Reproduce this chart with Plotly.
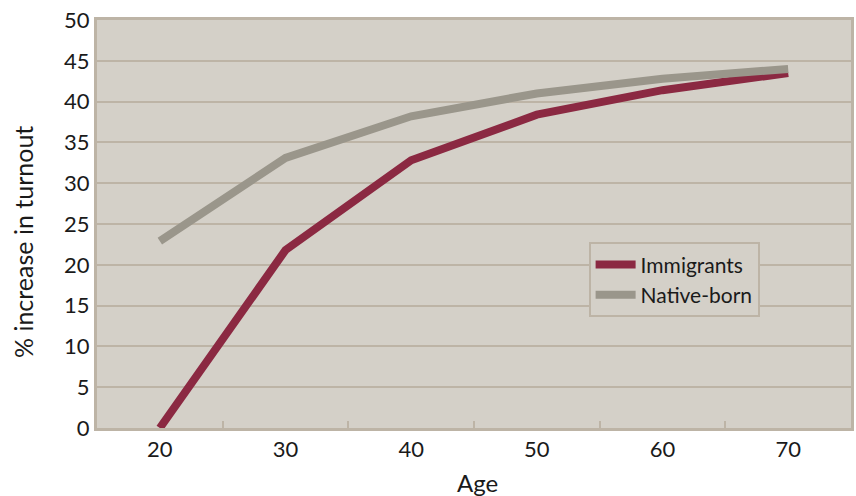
import plotly.graph_objects as go

ages = [20, 30, 40, 50, 60, 70]
immigrants = [0.0, 21.8, 32.8, 38.4, 41.4, 43.5]
native_born = [22.9, 33.1, 38.2, 41.0, 42.8, 44.0]
y_ticks = [0, 5, 10, 15, 20, 25, 30, 35, 40, 45, 50]

bg = "#d4d0c8"
grid = "#bdb4a6"
font = "Lato, 'Open Sans', sans-serif"

fig = go.Figure()
fig.add_trace(go.Scatter(x=ages, y=immigrants, mode="lines", name="Immigrants",
                         line=dict(color="#8b2942", width=8)))
fig.add_trace(go.Scatter(x=ages, y=native_born, mode="lines", name="Native-born",
                         line=dict(color="#9a968b", width=8)))

fig.update_layout(
    width=856, height=496,
    margin=dict(l=97, r=5, t=20, b=68, autoexpand=False),
    paper_bgcolor="white", plot_bgcolor=bg,
    font=dict(family=font, size=22, color="#1a1a1a"),
    showlegend=True,
    legend=dict(x=0.652, y=0.455, xanchor="left", yanchor="top",
                bgcolor=bg, bordercolor=grid, borderwidth=2,
                font=dict(size=21), itemwidth=40, traceorder="normal",
                tracegroupgap=0),
    xaxis=dict(range=[15, 75], tickvals=ages, ticktext=[str(a) for a in ages],
               ticks="", showgrid=False, zeroline=False, automargin=False,
               showline=True, linecolor=grid, linewidth=3, mirror=True,
               minor=dict(tickvals=[25, 35, 45, 55, 65], ticks="inside",
                          ticklen=7, tickwidth=2, tickcolor=grid, showgrid=False),
               fixedrange=True),
    yaxis=dict(range=[0, 50], tickvals=y_ticks, ticks="", showgrid=True,
               gridcolor=grid, gridwidth=2, zeroline=False, automargin=False,
               showline=True, linecolor=grid, linewidth=3, mirror=True,
               fixedrange=True),
    annotations=[
        dict(text="% increase in turnout", textangle=-90, showarrow=False,
             xref="paper", yref="paper", x=-0.098, y=0.456,
             xanchor="center", yanchor="middle", font=dict(size=25)),
        dict(text="Age", showarrow=False, xref="paper", yref="paper",
             x=0.504, y=-0.134, xanchor="center", yanchor="middle",
             font=dict(size=24)),
    ],
)

fig.write_html("out.html", config={"displayModeBar": False},
               post_script="document.body.style.margin='0';document.body.style.overflow='hidden';")
